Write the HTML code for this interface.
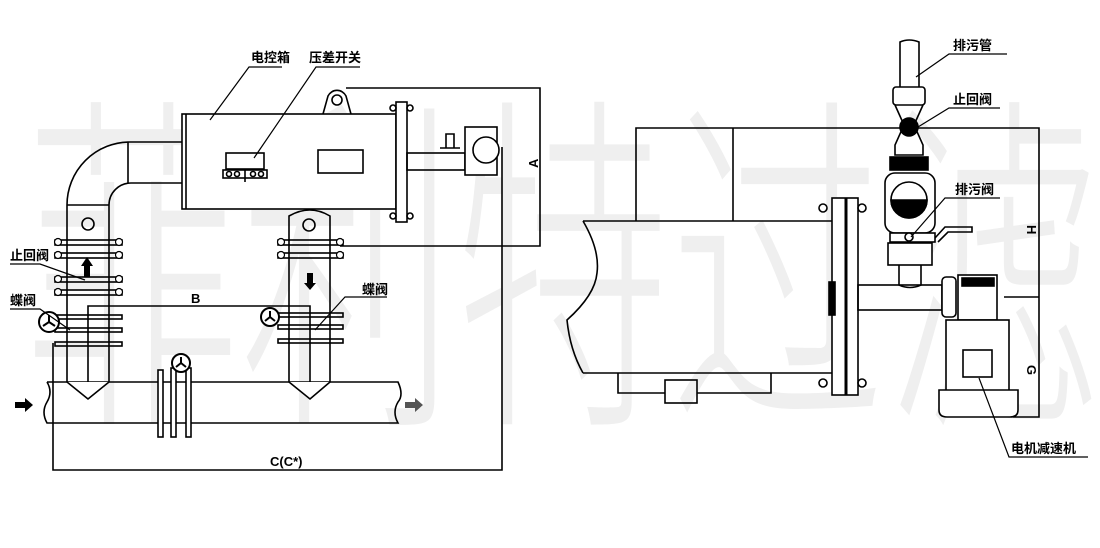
<!DOCTYPE html>
<html><head><meta charset="utf-8"><style>
html,body{margin:0;padding:0;background:#fff;}
svg{display:block;}
.l{font-family:"Liberation Sans","Noto Sans CJK SC",sans-serif;font-size:13px;font-weight:bold;fill:#000;}
</style></head><body>
<svg width="1100" height="548" viewBox="0 0 1100 548" xmlns="http://www.w3.org/2000/svg">
<!-- watermark -->
<g fill="#efefef" font-family="'Noto Sans CJK SC',sans-serif" font-weight="300">
<text transform="translate(25,398) scale(1,1.65)" font-size="215">菲利特过滤</text>
</g>
<g fill="none" stroke="#000" stroke-width="1.6">
<rect x="182" y="114" width="214" height="95" fill="#fff"/>
<line x1="186" y1="114" x2="186" y2="209"/>
<path d="M323,114 L328,96 A10,10 0 0 1 346,96 L351,114"/>
<circle cx="337" cy="100" r="5"/>
<polyline points="346,88 540,88 540,246 340,246"/>
<rect x="396" y="102" width="11" height="120" fill="#fff"/>
<circle cx="393" cy="108" r="3"/><circle cx="410" cy="108" r="3"/>
<circle cx="393" cy="216" r="3"/><circle cx="410" cy="216" r="3"/>
<rect x="407" y="153" width="58" height="17"/>
<rect x="465" y="127" width="32" height="48" fill="#fff"/>
<circle cx="486" cy="150" r="13" fill="#fff"/>
<path d="M446,134 h8 v14 h-8 z M440,148 h20"/>
<rect x="318" y="150" width="45" height="23"/>
<rect x="226" y="153" width="38" height="16"/>
<rect x="223" y="170" width="44" height="8"/>
<circle cx="229" cy="174" r="2.5"/><circle cx="237" cy="174" r="2.5"/><circle cx="253" cy="174" r="2.5"/><circle cx="261" cy="174" r="2.5"/>
<line x1="245" y1="170" x2="245" y2="182"/>
<path d="M67,382 V205 A63,63 0 0 1 130,142 H182"/>
<path d="M109,382 V205 A22,22 0 0 1 131,183 H182"/>
<line x1="128" y1="142" x2="128" y2="183"/>
<line x1="67" y1="205" x2="109" y2="205"/>
<path d="M289,382 V216 Q310,204 330,216 V382"/>
<circle cx="88" cy="224" r="6"/>
<circle cx="309" cy="225" r="6"/>
<rect x="55" y="240" width="67" height="5"/><rect x="55" y="253" width="67" height="5"/>
<rect x="55" y="277" width="67" height="5"/><rect x="55" y="290" width="67" height="5"/>
<rect x="278" y="240" width="65" height="5"/><rect x="278" y="253" width="65" height="5"/>
<g stroke-width="1.2" fill="#fff">
<circle cx="58" cy="242" r="3.5"/><circle cx="58" cy="255" r="3.5"/><circle cx="119" cy="242" r="3.5"/><circle cx="119" cy="255" r="3.5"/>
<circle cx="58" cy="279" r="3.5"/><circle cx="58" cy="292" r="3.5"/><circle cx="119" cy="279" r="3.5"/><circle cx="119" cy="292" r="3.5"/>
<circle cx="281" cy="242" r="3.5"/><circle cx="281" cy="255" r="3.5"/><circle cx="340" cy="242" r="3.5"/><circle cx="340" cy="255" r="3.5"/>
</g>
<polyline points="88,382 88,306 310,306 310,382"/>
<rect x="55" y="315" width="67" height="4"/><rect x="55" y="328" width="67" height="4"/><rect x="55" y="342" width="67" height="4"/>
<rect x="278" y="313" width="65" height="4"/><rect x="278" y="325" width="65" height="4"/><rect x="278" y="339" width="65" height="4"/>
<circle cx="49" cy="322" r="10" fill="#fff" stroke-width="2"/>
<circle cx="270" cy="317" r="9" fill="#fff" stroke-width="2"/>
<path d="M49,322 l0,-7 M49,322 l-6,4 M49,322 l6,4 M270,317 l0,-6 M270,317 l-5,4 M270,317 l5,4" stroke-width="2"/>
<path d="M47,382 H398 Q404,395 398,402 Q392,412 398,423 H47 Q41,412 47,402 Q53,392 47,382"/>
<path d="M67,382 L88,399 L109,382 M289,382 L310,399 L330,382" fill="#fff"/>
<rect x="158" y="370" width="5" height="67" fill="#fff"/>
<rect x="171" y="368" width="5" height="69" fill="#fff"/>
<rect x="186" y="368" width="5" height="69" fill="#fff"/>
<circle cx="181" cy="363" r="9" fill="#fff" stroke-width="2"/>
<path d="M181,363 l0,-6 M181,363 l-5,4 M181,363 l5,4" stroke-width="2"/>
<polyline points="53,343 53,470 502,470 502,147"/>
<polyline points="210,120 249,67 282,67" stroke-width="1.2"/>
<polyline points="254,158 316,67 360,67" stroke-width="1.2"/>
<polyline points="10,264 40,264 85,280" stroke-width="1.2"/>
<polyline points="10,309 40,309 70,330" stroke-width="1.2"/>
<polyline points="315,330 345,297 387,297" stroke-width="1.2"/>

<polyline points="636,221 636,128 1039,128 1039,417 1013,417"/>
<line x1="733" y1="128" x2="733" y2="221"/>
<line x1="1004" y1="297" x2="1039" y2="297"/>
<path d="M583,221 H834 M583,373 H832 M583,221 Q600,250 597,273 Q595,295 567,320 Q570,350 583,373"/>
<path d="M618,373 V393 H665 M697,393 H771 V373"/>
<rect x="665" y="380" width="32" height="23"/>
<rect x="832" y="198" width="26" height="197" fill="#fff"/>
<line x1="846" y1="198" x2="846" y2="395" stroke-width="3"/>
<rect x="829" y="282" width="6" height="33" fill="#000"/>
<circle cx="823" cy="208" r="4"/><circle cx="862" cy="208" r="4"/>
<circle cx="823" cy="383" r="4"/><circle cx="862" cy="383" r="4"/>
<rect x="858" y="285" width="84" height="25"/>
<rect x="942" y="277" width="14" height="40" rx="4" fill="#fff"/>
<rect x="958" y="275" width="39" height="45" fill="#fff"/>
<rect x="962" y="278" width="32" height="8" fill="#000"/>
<rect x="946" y="320" width="63" height="72" fill="#fff"/>
<path d="M939,390 H1018 V410 Q1018,417 1010,417 H947 Q939,417 939,410 Z" fill="#fff"/>
<rect x="963" y="350" width="29" height="27"/>
<path d="M900,87 V42 Q909,38 919,42 V87"/>
<rect x="893" y="87" width="32" height="18" rx="3" fill="#fff"/>
<path d="M895,105 L904,125 L895,145 V155 H923 V145 L914,125 L923,105"/>
<circle cx="909" cy="127" r="9" fill="#000"/>
<rect x="890" y="157" width="38" height="13" fill="#000"/>
<rect x="885" y="173" width="50" height="60" rx="10" fill="#fff"/>
<circle cx="909" cy="200" r="18"/>
<path d="M891,200 A18,18 0 0 0 927,200 Z" fill="#000"/>
<rect x="890" y="233" width="45" height="9" fill="#fff"/>
<path d="M935,238 L945,227 H972 V232 H948 L938,242"/>
<circle cx="909" cy="237" r="4" fill="#fff"/>
<rect x="888" y="243" width="44" height="22" fill="#fff"/>
<path d="M899,265 V285 Q910,290 921,285 V265"/>
<polyline points="916,77 949,54 1007,54" stroke-width="1.2"/>
<polyline points="918,127 949,108 1000,108" stroke-width="1.2"/>
<polyline points="911,237 945,198 1000,198" stroke-width="1.2"/>
<polyline points="979,378 1009,457 1088,457" stroke-width="1.2"/>
</g>
<g fill="#000">
<path d="M84,277 V266 H81 L87,257 L93,266 H90 V277 Z"/>
<path d="M307,273 V283 H304 L310,290 L316,283 H313 V273 Z"/>
<path d="M15,402 H25 V398 L33,405 L25,412 V408 H15 Z"/>
<path d="M405,402 H415 V398 L423,405 L415,412 V408 H405 Z" fill="#555"/>
</g>
<text class="l" x="251" y="62">电控箱</text>
<text class="l" x="309" y="62">压差开关</text>
<text class="l" x="10" y="260">止回阀</text>
<text class="l" x="10" y="305">蝶阀</text>
<text class="l" x="362" y="294">蝶阀</text>
<text class="l" x="191" y="303" font-size="11">B</text>
<text class="l" x="270" y="466" font-size="11">C(C*)</text>
<text class="l" font-size="11" transform="translate(538,168) rotate(-90)">A</text>
<text class="l" x="953" y="50">排污管</text>
<text class="l" x="953" y="104">止回阀</text>
<text class="l" x="955" y="194">排污阀</text>
<text class="l" x="1011" y="453">电机减速机</text>
<text class="l" font-size="10" transform="translate(1027,225) rotate(90)">H</text>
<text class="l" font-size="10" transform="translate(1027,365) rotate(90)">G</text>
</svg>
</body></html>
